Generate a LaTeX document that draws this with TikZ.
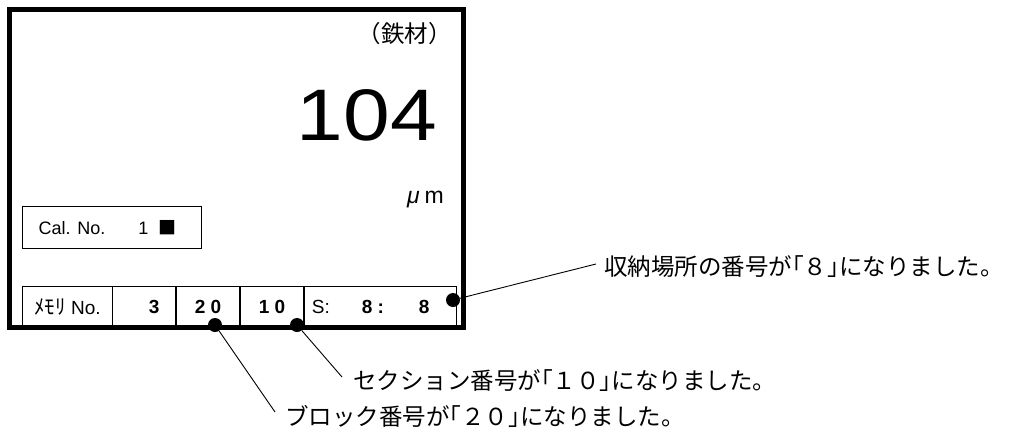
\documentclass[tikz,border=0pt]{standalone}
\usepackage{fontspec}
\setmainfont{Liberation Sans}
\newfontfamily\jp{Noto Sans CJK JP}
\newfontfamily\bignum[FakeStretch=1.15]{Liberation Sans}
\usetikzlibrary{positioning}

\begin{document}
\begin{tikzpicture}[x=1pt, y=-1pt,
    every node/.style={inner sep=0pt},
    cell/.style={draw, line width=1.3pt, outer sep=0pt, minimum height=41pt, anchor=north west, font=\fontsize{19}{22}\selectfont},
    dot/.style={circle, fill=black, minimum size=14pt},
    lbl/.style={font=\jp\fontsize{23.5}{28}\selectfont},
    leader/.style={line width=0.9pt}
  ]
  \useasboundingbox (0,0) rectangle (1014,439);
  \node[cell, minimum width=179pt, minimum height=41.6pt, font=\fontsize{18}{21}\selectfont] (cal) at (22.7,206.7) {\makebox[147pt][l]{Cal. No.\hspace{33pt}1\hspace{10pt}{\jp ■}}};
  \node[cell, minimum width=89.6pt] (cmem) at (22.7,286.3) {{\jp\fontsize{21}{24}\selectfont ﾒﾓﾘ} No.};
  \node[cell, minimum width=63.7pt, right=0pt of cmem] (cno) {\hspace{20pt}\textbf{3}};
  \node[cell, minimum width=64pt, right=0pt of cno] (cblock) {\textbf{2 0}};
  \node[cell, minimum width=64pt, right=0pt of cblock] (csect) {\textbf{1 0}};
  \node[cell, minimum width=152.7pt, right=0pt of csect] (cslot) {\makebox[137pt][l]{S:\hspace{32pt}\textbf{8 :}\hspace{35pt}\textbf{8}}};
  \draw[line width=5pt] (9.8,9.8) rectangle (463.7,327.5);
  \node[anchor=east, lbl] (material) at (452,34) {（鉄材）};
  \node[anchor=base east, font=\bignum\fontsize{73}{80}\selectfont] (reading) at (437,140) {104};
  \node[anchor=base east, font=\fontsize{23}{26}\selectfont] (unit) at (444,203) {\textit{μ}\hspace{5pt}m};
  \node[dot] (dblock) at (215,325) {};
  \node[dot] (dsect) at (297,325) {};
  \node[dot] (dslot) at (453,300) {};
  \coordinate (eblock) at (275,412);
  \coordinate (esect) at (342,377);
  \coordinate (eslot) at (596,264);
  \node[lbl, right=10pt of eblock, yshift=-4pt] (lblock) {ブロック番号が｢２０｣になりました。};
  \node[lbl, right=11pt of esect, yshift=-4pt] (lsect) {セクション番号が｢１０｣になりました。};
  \node[lbl, right=8pt of eslot, yshift=-3pt] (lslot) {収納場所の番号が｢８｣になりました。};
  \draw[leader] (dblock) -- (eblock);
  \draw[leader] (dsect) -- (esect);
  \draw[leader] (dslot) -- (eslot);
\end{tikzpicture}
\end{document}
